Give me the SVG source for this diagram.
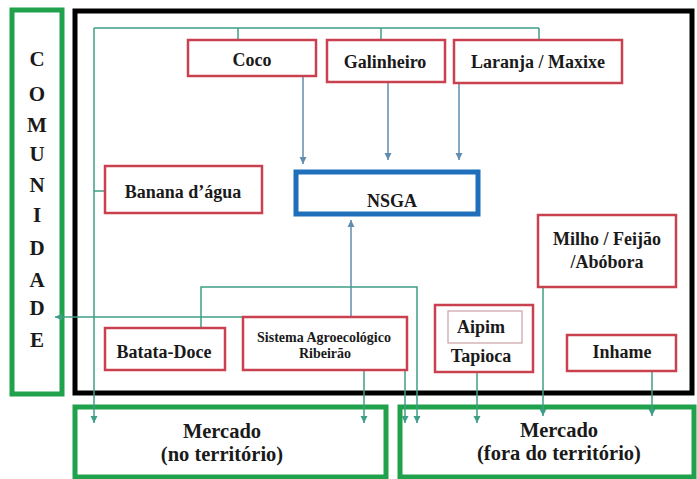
<svg xmlns="http://www.w3.org/2000/svg" width="697" height="479" viewBox="0 0 697 479">
<style>
text{font-family:"Liberation Serif","Times New Roman",serif;font-weight:bold;fill:#1a1a1a;text-anchor:middle}
.red{fill:#fff;stroke:#c9404f;stroke-width:2.5}
.grn{fill:#fff;stroke:#1fa24b;stroke-width:5}
.t{fill:none;stroke:#3f9e86;stroke-width:1.5}
.b{fill:none;stroke:#5f8db0;stroke-width:1.5}
.lab{font-size:18px}
.big{font-size:20.5px}
.let{font-size:21px}
</style>
<defs>
<marker id="at" markerWidth="8" markerHeight="8" refX="7" refY="4" orient="auto" markerUnits="userSpaceOnUse"><path d="M0,0.5 L7,4 L0,7.5 Z" fill="#3f9e86"/></marker>
<marker id="ab" markerWidth="8" markerHeight="8" refX="7" refY="4" orient="auto" markerUnits="userSpaceOnUse"><path d="M0,0.5 L7,4 L0,7.5 Z" fill="#5f8db0"/></marker>
</defs>
<rect width="697" height="479" fill="#fff"/>
<g id="comunidade">
<rect class="grn" x="12" y="10" width="50" height="384"/>
<text class="let" x="37" y="66">C</text>
<text class="let" x="37" y="101">O</text>
<text class="let" x="37" y="132">M</text>
<text class="let" x="37" y="161">U</text>
<text class="let" x="37" y="192">N</text>
<text class="let" x="37" y="222">I</text>
<text class="let" x="37" y="255">D</text>
<text class="let" x="37" y="287">A</text>
<text class="let" x="37" y="315">D</text>
<text class="let" x="37" y="347">E</text>
</g>
<g id="territorio">
<rect x="75" y="11" width="617" height="382" fill="none" stroke="#000" stroke-width="5"/>
</g>
<g id="mercado-no">
<rect class="grn" x="75" y="407" width="311" height="70"/>
<text class="big" x="222" y="438">Mercado</text>
<text class="big" x="222" y="461">(no território)</text>
</g>
<g id="mercado-fora">
<rect class="grn" x="400" y="407" width="294" height="70"/>
<text class="big" x="559" y="437">Mercado</text>
<text class="big" x="559" y="460">(fora do território)</text>
</g>
<g id="connectors">
<path class="t" d="M238,40 V28 M381,40 V28 M539,40 V28 M94,28 H539 M94,191 H105"/>
<path class="t" d="M94,28 V423" marker-end="url(#at)"/>
<path class="b" d="M303,76 V164" marker-end="url(#ab)"/>
<path class="b" d="M388,83 V160" marker-end="url(#ab)"/>
<path class="b" d="M459,83 V160" marker-end="url(#ab)"/>
<path class="b" d="M351,317 V220" marker-end="url(#ab)"/>
<path class="t" d="M201,328 V287 H417 V423" marker-end="url(#at)"/>
<path class="t" d="M243,317 H55" marker-end="url(#at)"/>
<path class="t" d="M364,370 V423" marker-end="url(#at)"/>
<path class="t" d="M405,370 V423" marker-end="url(#at)"/>
<path class="t" d="M477,372 V423" marker-end="url(#at)"/>
<path class="t" d="M543,287 V416" marker-end="url(#at)"/>
<path class="t" d="M652,371 V416" marker-end="url(#at)"/>
</g>
<g id="coco">
<rect class="red" x="188" y="40" width="128" height="36"/>
<text class="lab" x="252" y="66">Coco</text>
</g>
<g id="galinheiro">
<rect class="red" x="327" y="40" width="118" height="42"/>
<text class="lab" x="385" y="68">Galinheiro</text>
</g>
<g id="laranja">
<rect class="red" x="454" y="40" width="168" height="43"/>
<text class="lab" x="538" y="68">Laranja / Maxixe</text>
</g>
<g id="nsga">
<rect x="296" y="172" width="182" height="42" fill="#fff" stroke="#1f6fba" stroke-width="5"/>
<text class="lab" x="392" y="207">NSGA</text>
</g>
<g id="banana">
<rect class="red" x="105" y="166" width="157" height="47"/>
<text class="lab" x="183" y="198">Banana d’água</text>
</g>
<g id="batata">
<rect class="red" x="105" y="328" width="120" height="42"/>
<text class="lab" x="164" y="358">Batata-Doce</text>
</g>
<g id="sistema">
<rect class="red" x="243" y="317" width="164" height="53"/>
<text x="324" y="342" font-size="14">Sistema Agroecológico</text>
<text x="325" y="358" font-size="14">Ribeirão</text>
</g>
<g id="aipim">
<rect class="red" x="435" y="305" width="98" height="67"/>
<rect x="448" y="311" width="74" height="32" fill="none" stroke="#c9a0a6" stroke-width="1.2"/>
<text class="lab" x="481" y="333">Aipim</text>
<text class="lab" x="481" y="362">Tapioca</text>
</g>
<g id="milho">
<rect class="red" x="538" y="215" width="138" height="72"/>
<text class="lab" x="607" y="245">Milho / Feijão</text>
<text class="lab" x="607" y="268">/Abóbora</text>
</g>
<g id="inhame">
<rect class="red" x="567" y="335" width="109" height="36"/>
<text class="lab" x="622" y="358">Inhame</text>
</g>
</svg>
